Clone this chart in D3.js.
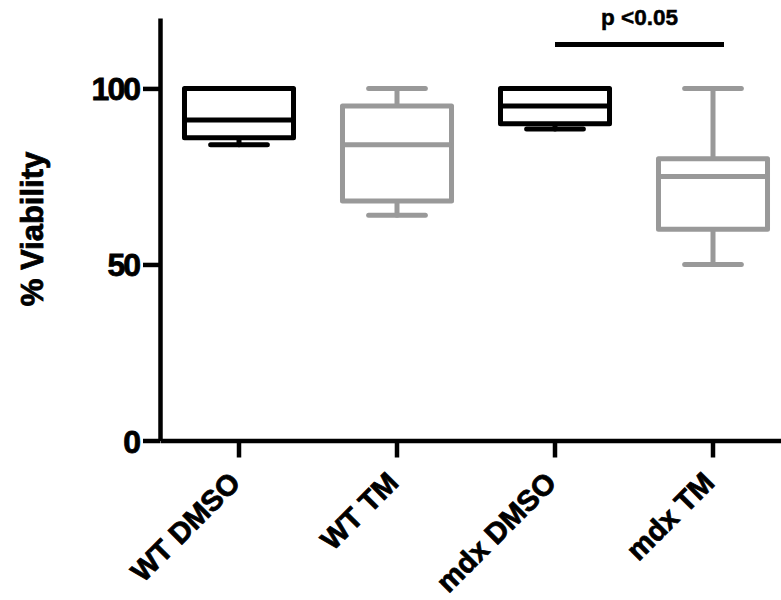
<!DOCTYPE html>
<html>
<head>
<meta charset="utf-8">
<script src="https://cdn.jsdelivr.net/npm/d3@7"></script>
<style>
  body { margin: 0; background: #fff; }
  text { font-family: "Liberation Sans", Arial, Helvetica, sans-serif; font-weight: bold; }
</style>
</head>
<body>
<div id="chart"></div>
<script>
// box plot values (% viability)
const categories = ["WT DMSO", "WT TM", "mdx DMSO", "mdx TM"];
const whiskerLow = [84, 64, 88.5, 50];
const q1 = [86, 68, 90, 60];
const medians = [91, 84, 95, 75];
const q3 = [100, 95, 100, 80];
const whiskerHigh = [100, 100, 100, 100];
const yTicks = [0, 50, 100];
const sigPair = ["mdx DMSO", "mdx TM"];
const sigLabel = "p <0.05";
const sigLevel = 112.5;

const width = 781, height = 600;

const svg = d3.select("#chart").append("svg")
  .attr("width", width)
  .attr("height", height);

const x = d3.scaleBand().domain(categories).range([160, 792]).padding(0);
const y = d3.scaleLinear().domain([0, 120]).range([440.5, 18]);
const color = d3.scaleOrdinal().domain(categories).range(["#000", "#999", "#000", "#999"]);

const boxW = x.bandwidth() * 0.69;
const capW = boxW * 0.52;

const rows = categories.map((c, i) => ({
  name: c, lo: whiskerLow[i], q1: q1[i], med: medians[i], q3: q3[i], hi: whiskerHigh[i]
}));

// Boxes
const g = svg.append("g")
  .attr("fill", "none")
  .attr("stroke-width", 5)
  .attr("stroke-linejoin", "round")
  .attr("stroke-linecap", "round");

const box = g.selectAll("g.box")
  .data(rows)
  .join("g")
  .attr("class", "box")
  .attr("stroke", d => color(d.name))
  .attr("transform", d => `translate(${x(d.name) + x.bandwidth() / 2},0)`);

// whiskers
box.append("line")
  .attr("y1", d => y(d.q3)).attr("y2", d => y(d.hi));
box.append("line")
  .attr("y1", d => y(d.q1)).attr("y2", d => y(d.lo));
box.append("line")
  .attr("x1", -capW / 2).attr("x2", capW / 2)
  .attr("y1", d => y(d.hi)).attr("y2", d => y(d.hi));
box.append("line")
  .attr("x1", -capW / 2).attr("x2", capW / 2)
  .attr("y1", d => y(d.lo)).attr("y2", d => y(d.lo));

box.append("rect")
  .attr("x", -boxW / 2)
  .attr("width", boxW)
  .attr("y", d => y(d.q3))
  .attr("height", d => y(d.q1) - y(d.q3))
  .attr("fill", "#fff");

box.append("line")
  .attr("x1", -boxW / 2).attr("x2", boxW / 2)
  .attr("y1", d => y(d.med)).attr("y2", d => y(d.med))
  .attr("stroke-linecap", "butt");

// Axes
const yAxis = svg.append("g")
  .attr("transform", "translate(160,0)")
  .call(d3.axisLeft(y).tickValues(yTicks).tickSize(17).tickSizeOuter(0).tickPadding(4));

const xAxis = svg.append("g")
  .attr("transform", `translate(0,${y(0)})`)
  .call(d3.axisBottom(x).tickSize(17).tickSizeOuter(0));

[yAxis, xAxis].forEach(ax => {
  ax.select(".domain").attr("stroke", "#000").attr("stroke-width", 4.5);
  ax.selectAll(".tick line").attr("stroke", "#000").attr("stroke-width", 4.5);
});

// heavier lettering, like the original export
const heavy = sel => sel.attr("fill", "#000").attr("stroke", "#000").attr("stroke-width", 0.8);

yAxis.selectAll(".tick text")
  .attr("font-size", 32)
  .attr("letter-spacing", -2)
  .attr("font-family", null)
  .attr("dy", "0.36em")
  .call(heavy);

xAxis.selectAll(".tick text")
  .attr("font-size", 29)
  .attr("font-family", null)
  .attr("text-anchor", "end")
  .attr("y", 0).attr("dy", 0)
  .attr("transform", "translate(3,44) rotate(-45)")
  .call(heavy);

// Y title
svg.append("text")
  .attr("transform", "translate(43,229) rotate(-90)")
  .attr("text-anchor", "middle")
  .attr("font-size", 31)
  .call(heavy)
  .text("% Viability");

// significance bar
const sx1 = x(sigPair[0]) + x.bandwidth() / 2;
const sx2 = x(sigPair[1]) + x.bandwidth() / 2 + 11;
svg.append("line")
  .attr("x1", sx1).attr("x2", sx2)
  .attr("y1", y(sigLevel)).attr("y2", y(sigLevel))
  .attr("stroke", "#000").attr("stroke-width", 5);

svg.append("text")
  .attr("x", (sx1 + sx2) / 2)
  .attr("y", 25)
  .attr("text-anchor", "middle")
  .attr("font-size", 22.5)
  .call(heavy)
  .attr("stroke-width", 0.5)
  .text(sigLabel);
</script>
</body>
</html>
